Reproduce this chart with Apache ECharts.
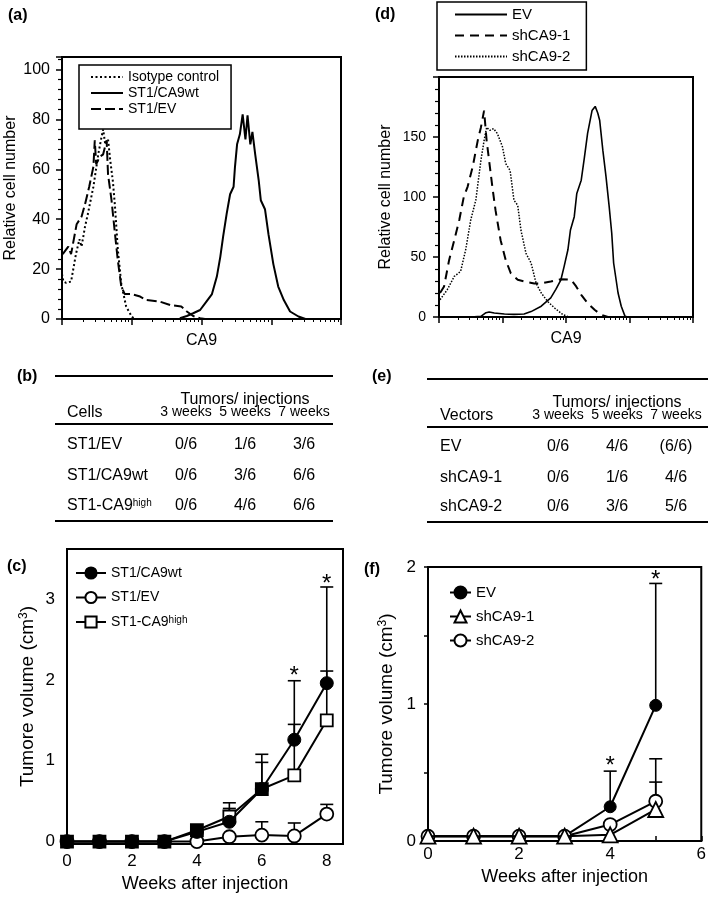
<!DOCTYPE html>
<html>
<head>
<meta charset="utf-8">
<script src="https://cdn.jsdelivr.net/npm/echarts@6/dist/echarts.min.js"></script>
<style>
html,body{margin:0;padding:0;background:#fff}
#main{width:709px;height:897px}
</style>
</head>
<body>
<div id="main"></div>
<script>
var FONT = '"Liberation Sans", Arial, Helvetica, sans-serif';

// (a) flow histograms, points are [log10 CA9 intensity, relative cell number]
var isotypeCurve = [[0,18],[0.02,15],[0.06,14.5],[0.13,15],[0.2,26],[0.25,32],[0.28,29],[0.33,37],[0.37,42],[0.45,53],[0.52,66],[0.56,72],[0.59,76],[0.62,70],[0.66,72],[0.69,64],[0.73,55],[0.76,45],[0.8,28],[0.85,14],[0.92,5],[0.99,1.5],[1.03,0],[4,0]];
var ca9wtCurve = [[1.69,0.3],[1.79,1.2],[1.88,2.3],[1.98,3.6],[2.07,7],[2.15,10],[2.22,17],[2.27,25],[2.31,33],[2.36,42],[2.41,50],[2.46,53],[2.48,61],[2.51,70],[2.55,74],[2.59,82],[2.63,72],[2.66,81.6],[2.7,70],[2.73,75],[2.77,66],[2.82,55.6],[2.85,47.6],[2.91,44],[2.96,34],[3.03,22],[3.1,13],[3.18,7.6],[3.27,3],[3.39,1],[3.49,0]];
var st1EvCurve = [[0.01,26],[0.09,29],[0.13,26],[0.21,38],[0.28,41],[0.33,46],[0.39,53],[0.45,61],[0.47,71.6],[0.49,62],[0.54,65],[0.59,66],[0.64,71.6],[0.66,58],[0.71,47.6],[0.76,34],[0.8,23.6],[0.85,13],[0.9,10],[1.0,10],[1.12,9],[1.21,7.6],[1.4,7],[1.55,5.6],[1.71,5],[1.79,3],[1.88,1.2],[1.98,0.3],[2.05,0]];

// (d) flow histograms
var evCurve = [[0.5,0],[0.66,0.5],[0.74,3.6],[0.79,4.2],[0.87,3.3],[1.03,2.5],[1.18,2.2],[1.34,2.5],[1.45,4.5],[1.61,9],[1.76,16],[1.84,23],[1.92,31],[1.97,42],[2.03,56],[2.07,72.5],[2.13,83.6],[2.17,103],[2.24,114],[2.29,133],[2.34,153],[2.41,172],[2.46,175.5],[2.5,170],[2.53,164],[2.58,139],[2.63,117],[2.68,92],[2.72,70],[2.75,45],[2.82,20],[2.87,9],[2.93,0.5],[2.97,0]];
var sh1Curve = [[0.016,20],[0.08,25.5],[0.16,47.6],[0.24,64],[0.32,81],[0.39,100],[0.45,108.5],[0.53,125],[0.61,147],[0.66,158],[0.71,172],[0.75,147],[0.79,130],[0.84,108.5],[0.89,89],[0.97,64],[1.05,47.6],[1.13,36.5],[1.24,31],[1.34,29.6],[1.5,28],[1.61,28],[1.76,29.6],[1.92,31.5],[2.08,31],[2.16,25.5],[2.24,18.5],[2.34,11.6],[2.45,6],[2.55,2],[2.66,0]];
var sh2Curve = [[0.016,14.4],[0.13,22.7],[0.24,33.8],[0.34,38],[0.42,56],[0.5,81],[0.58,97.4],[0.66,130.6],[0.71,147],[0.75,158],[0.8,155.5],[0.86,157],[0.92,152.8],[1.0,141.7],[1.05,128],[1.12,122],[1.18,97.4],[1.24,93],[1.29,72.5],[1.37,53],[1.45,45],[1.53,28],[1.61,20],[1.71,13],[1.82,7.5],[1.95,2],[2.05,0]];

// (b) and (e) tables
var weekHeads = ['3 weeks', '5 weeks', '7 weeks'];
var cellsB = ['ST1/EV', 'ST1/CA9wt', 'ST1-CA9{sup|high}'];
var countsB = [['0/6','1/6','3/6'], ['0/6','3/6','6/6'], ['0/6','4/6','6/6']];
var vectorsE = ['EV', 'shCA9-1', 'shCA9-2'];
var countsE = [['0/6','4/6','(6/6)'], ['0/6','1/6','4/6'], ['0/6','3/6','5/6']];

// (c) tumour volume (cm3) per week
var weeksC = [0,1,2,3,4,5,6,7,8];
var ca9wtVol = [0,0,0,0,0.12,0.245,0.65,1.26,1.96];
var ca9wtUp  = [null,null,null,null,null,0.41,1.08,1.99,3.15];
var highVol  = [0,0,0,0,0.14,0.31,0.65,0.82,1.5];
var highUp   = [null,null,null,null,null,0.48,0.98,1.45,2.11];
var evVolC   = [0,0,0,0,0,0.06,0.08,0.07,0.34];
var evUpC    = [null,null,null,null,null,null,0.245,0.23,0.46];
var starsC   = [[7,2.1],[8,3.24]];

// (f) tumour volume (cm3) per week
var weeksF = [0,1,2,3,4,5];
var evVolF  = [0.035,0.035,0.035,0.035,0.25,0.99];
var evUpF   = [null,null,null,null,0.51,1.88];
var sh1VolF = [0.035,0.035,0.035,0.035,0.045,0.23];
var sh1UpF  = [null,null,null,null,null,0.43];
var sh2VolF = [0.035,0.035,0.035,0.035,0.12,0.29];
var sh2UpF  = [null,null,null,null,null,0.6];
var starsF  = [[4,0.58],[5,1.94]];

function logPts(curve) {
	return curve.map(function(p) { return [Math.pow(10, p[0]), p[1]]; });
}
function pairs(xs, ys) {
	return xs.map(function(x, i) { return [x, ys[i]]; });
}
function errData(xs, ys, ups) {
	var out = [];
	for (var i = 0; i < xs.length; i++) {
		if (ups[i] != null) out.push([xs[i], ys[i], ups[i]]);
	}
	return out;
}

var black = '#000';
var txt = function(size) { return {fontSize: size, color: black, fontFamily: FONT}; };
var axisLine = {show: true, onZero: false, lineStyle: {color: black, width: 2}};
var gridBox = {show: true, borderColor: black, borderWidth: 2, backgroundColor: 'transparent'};
var supRich = {sup: {fontSize: 10, verticalAlign: 'top', fontFamily: FONT, color: black, lineHeight: 10}};

// error bar (upper only) drawn through the axis scales
function renderErr(params, api) {
	var x = api.value(0);
	var p0 = api.coord([x, api.value(1)]);
	var p1 = api.coord([x, api.value(2)]);
	var w = 6.5;
	var st = {stroke: black, lineWidth: 1.6};
	return {type: 'group', children: [
		{type: 'line', shape: {x1: p0[0], y1: p0[1], x2: p1[0], y2: p1[1]}, style: st},
		{type: 'line', shape: {x1: p1[0] - w, y1: p1[1], x2: p1[0] + w, y2: p1[1]}, style: st}
	]};
}
function renderStar(params, api) {
	var p = api.coord([api.value(0), api.value(1)]);
	return {type: 'text', x: p[0], y: p[1] + 5, style: {text: '*', fontSize: 24, fontFamily: FONT, fill: black, align: 'center', verticalAlign: 'middle'}};
}

function histAxisX(grid) {
	return {
		gridIndex: grid, type: 'log', logBase: 10, min: 1, max: 10000,
		name: 'CA9', nameLocation: 'middle', nameGap: 14, nameTextStyle: txt(16),
		axisLine: axisLine,
		axisTick: {show: true, inside: false, length: 6, lineStyle: {color: black, width: 1.5}},
		minorTick: {show: true, splitNumber: 9, length: 3, lineStyle: {color: black, width: 1}},
		axisLabel: {show: false}, splitLine: {show: false}, minorSplitLine: {show: false}
	};
}

function histAxisY(grid, max, interval, labelSize, gap, margin) {
	return {
		gridIndex: grid, type: 'value', min: 0, max: max, interval: interval,
		name: 'Relative cell number', nameLocation: 'middle', nameGap: gap, nameTextStyle: txt(16),
		axisLine: axisLine,
		axisTick: {show: true, length: 6, lineStyle: {color: black, width: 1.5}},
		minorTick: {show: true, splitNumber: 5, length: 4, lineStyle: {color: black, width: 1.2}},
		axisLabel: Object.assign({margin: margin, showMaxLabel: false}, txt(labelSize)),
		splitLine: {show: false}, minorSplitLine: {show: false}
	};
}

function histLine(name, curve, dash, grid, width) {
	return {
		name: name, type: 'line', xAxisIndex: grid, yAxisIndex: grid,
		data: logPts(curve), symbol: 'none', smooth: false,
		itemStyle: {color: 'rgba(0,0,0,0)', borderWidth: 0},
		lineStyle: {color: black, width: width || 2, type: dash}
	};
}

function volLine(name, xs, ys, grid, symbol, filled, size, z) {
	return {
		name: name, type: 'line', xAxisIndex: grid, yAxisIndex: grid,
		data: pairs(xs, ys), symbol: symbol, symbolSize: size, showSymbol: true, z: z,
		lineStyle: {color: black, width: 2},
		itemStyle: filled ? {color: black, borderColor: black, borderWidth: 1} : {color: '#fff', borderColor: black, borderWidth: 1.8}
	};
}

function errSeries(grid, xs, ys, ups) {
	return {type: 'custom', xAxisIndex: grid, yAxisIndex: grid, renderItem: renderErr, data: errData(xs, ys, ups), encode: {x: 0, y: [1, 2]}, z: 1, silent: true};
}
function starSeries(grid, stars) {
	return {type: 'custom', xAxisIndex: grid, yAxisIndex: grid, renderItem: renderStar, data: stars, encode: {x: 0, y: 1}, z: 5, silent: true};
}

// squares under the black circles look solid black in the reference
var highSeries = volLine('c|ST1-CA9high', weeksC, highVol, 2, 'rect', false, 12, 3);
highSeries.data = highSeries.data.map(function(p, i) {
	return (ca9wtVol[i] > 0 && highVol[i] - ca9wtVol[i] > 0.05) || i === 7 || i === 8
		? p : {value: p, itemStyle: {color: black}};
});

// tables and panel labels
var graphics = [];
function label(t, x, y) {
	graphics.push({type: 'text', x: x, y: y, style: {text: t, fontSize: 16, fontWeight: 'bold', fontFamily: FONT, fill: black, align: 'left', verticalAlign: 'middle'}});
}
function hline(x1, x2, y) {
	graphics.push({type: 'line', shape: {x1: x1, y1: y, x2: x2, y2: y}, style: {stroke: black, lineWidth: 2}});
}
function cell(t, x, y, align, size) {
	graphics.push({type: 'text', x: x, y: y, style: {text: t, rich: supRich, fontSize: size, fontFamily: FONT, fill: black, align: align, verticalAlign: 'middle'}});
}
function table(x1, x2, lines, firstHead, rowX, colX, rowsY, names, counts) {
	hline(x1, x2, lines[0]);
	hline(x1, x2, lines[1]);
	hline(x1, x2, lines[2]);
	cell('Tumors/ injections', (colX[0] + colX[2]) / 2, lines[0] + 24, 'center', 16);
	cell(firstHead, rowX, lines[0] + 37, 'left', 16);
	for (var j = 0; j < weekHeads.length; j++) cell(weekHeads[j], colX[j], lines[0] + 36, 'center', 14);
	for (var i = 0; i < names.length; i++) {
		cell(names[i], rowX, rowsY[i], 'left', 16);
		for (var k = 0; k < counts[i].length; k++) cell(counts[i][k], colX[k], rowsY[i], 'center', 16);
	}
}
table(55, 333, [376, 424, 521], 'Cells', 67, [186, 245, 304], [445, 476, 506], cellsB, countsB);
table(427, 708, [379, 427, 522], 'Vectors', 440, [558, 617, 676], [447, 478, 507], vectorsE, countsE);
label('(a)', 8, 16);
label('(d)', 375, 15);
label('(b)', 17, 377);
label('(e)', 372, 377);
label('(c)', 7, 567);
label('(f)', 364, 570);

var chart = echarts.init(document.getElementById('main'));
var option = {
	animation: false,
	backgroundColor: '#fff',
	textStyle: {fontFamily: FONT},
	grid: [
		Object.assign({left: 62, top: 57, width: 279, height: 262}, gridBox),
		Object.assign({left: 439, top: 77, width: 254, height: 240}, gridBox),
		Object.assign({left: 67, top: 549, width: 276, height: 295}, gridBox),
		Object.assign({left: 428, top: 567, width: 274, height: 274}, gridBox)
	],
	xAxis: [
		histAxisX(0),
		histAxisX(1),
		{
			gridIndex: 2, type: 'value', min: 0, max: 8.5,
			name: 'Weeks after injection', nameLocation: 'middle', nameGap: 31, nameTextStyle: txt(18),
			axisLine: axisLine, axisTick: {show: false},
			axisLabel: Object.assign({customValues: [0, 2, 4, 6, 8], margin: 9}, txt(17)),
			splitLine: {show: false}
		},
		{
			gridIndex: 3, type: 'value', min: 0, max: 6, interval: 1,
			name: 'Weeks after injection', nameLocation: 'middle', nameGap: 27, nameTextStyle: txt(18),
			axisLine: axisLine, axisTick: {show: true, inside: true, length: 5, lineStyle: {color: black, width: 1.5}},
			axisLabel: Object.assign({margin: 5, formatter: function(v) { return v % 2 === 0 ? v : ''; }}, txt(17)),
			splitLine: {show: false}
		}
	],
	yAxis: [
		histAxisY(0, 105, 20, 16, 43, 12),
		histAxisY(1, 200, 50, 14, 45, 13),
		{
			gridIndex: 2, type: 'value', min: -0.03, max: 3.62,
			name: 'Tumore volume (cm{sup|3})', nameLocation: 'middle', nameGap: 30,
			nameTextStyle: Object.assign({rich: {sup: {fontSize: 12, verticalAlign: 'top', fontFamily: FONT, color: black}}}, txt(19)),
			axisLine: axisLine, axisTick: {show: false},
			axisLabel: Object.assign({customValues: [0, 1, 2, 3], margin: 12}, txt(17)),
			splitLine: {show: false}
		},
		{
			gridIndex: 3, type: 'value', min: 0, max: 2, interval: 0.5,
			name: 'Tumore volume (cm{sup|3})', nameLocation: 'middle', nameGap: 32,
			nameTextStyle: Object.assign({rich: {sup: {fontSize: 12, verticalAlign: 'top', fontFamily: FONT, color: black}}}, txt(19)),
			axisLine: axisLine, axisTick: {show: true, length: 4, lineStyle: {color: black, width: 1.5}},
			axisLabel: Object.assign({margin: 12, formatter: function(v) { return v % 1 === 0 ? v : ''; }}, txt(17)),
			splitLine: {show: false}
		}
	],
	legend: [
		{
			left: 79, top: 65, orient: 'vertical', padding: [5, 12, 13, 11],
			borderColor: black, borderWidth: 1.5, backgroundColor: '#fff',
			itemWidth: 32, itemHeight: 12, itemGap: 2, selectedMode: false,
			textStyle: Object.assign({lineHeight: 14}, txt(14)),
			data: ['Isotype control', 'ST1/CA9wt', 'ST1/EV']
		},
		{
			left: 437, top: 2, orient: 'vertical', padding: [5, 16, 6, 17],
			borderColor: black, borderWidth: 1.5,
			itemWidth: 52, itemHeight: 12, itemGap: 6, selectedMode: false,
			textStyle: Object.assign({lineHeight: 15}, txt(15)),
			data: ['EV', 'shCA9-1', 'shCA9-2']
		},
		{
			left: 75, top: 566, orient: 'vertical', padding: 0,
			itemWidth: 30, itemHeight: 14, itemGap: 10.5, selectedMode: false,
			textStyle: Object.assign({lineHeight: 14, rich: supRich}, txt(14)),
			formatter: function(n) {
				var s = n.split('|')[1];
				return s === 'ST1-CA9high' ? 'ST1-CA9{sup|high}' : s;
			},
			data: ['c|ST1/CA9wt', 'c|ST1/EV', 'c|ST1-CA9high']
		},
		{
			left: 449, top: 585, orient: 'vertical', padding: 0,
			itemWidth: 21, itemHeight: 15, itemGap: 9, selectedMode: false,
			textStyle: Object.assign({lineHeight: 15}, txt(15)),
			formatter: function(n) { return n.split('|')[1]; },
			data: ['f|EV', 'f|shCA9-1', 'f|shCA9-2']
		}
	],
	graphic: {elements: graphics},
	series: [
		histLine('Isotype control', isotypeCurve, [2, 2.5], 0),
		histLine('ST1/EV', st1EvCurve, [10, 4], 0),
		histLine('ST1/CA9wt', ca9wtCurve, 'solid', 0),

		histLine('EV', evCurve, 'solid', 1, 1.6),
		histLine('shCA9-1', sh1Curve, [9, 6], 1),
		histLine('shCA9-2', sh2Curve, [1.5, 1.5], 1, 1.5),

		errSeries(2, weeksC, evVolC, evUpC),
		errSeries(2, weeksC, highVol, highUp),
		errSeries(2, weeksC, ca9wtVol, ca9wtUp),
		volLine('c|ST1/EV', weeksC, evVolC, 2, 'circle', false, 13, 2),
		highSeries,
		volLine('c|ST1/CA9wt', weeksC, ca9wtVol, 2, 'circle', true, 13, 4),
		starSeries(2, starsC),

		errSeries(3, weeksF, evVolF, evUpF),
		errSeries(3, weeksF, sh2VolF, sh2UpF),
		errSeries(3, weeksF, sh1VolF, sh1UpF),
		volLine('f|EV', weeksF, evVolF, 3, 'circle', true, 12, 2),
		volLine('f|shCA9-2', weeksF, sh2VolF, 3, 'circle', false, 13, 3),
		volLine('f|shCA9-1', weeksF, sh1VolF, 3, 'triangle', false, 15, 4),
		starSeries(3, starsF)
	]
};
chart.setOption(option);
</script>
</body>
</html>
